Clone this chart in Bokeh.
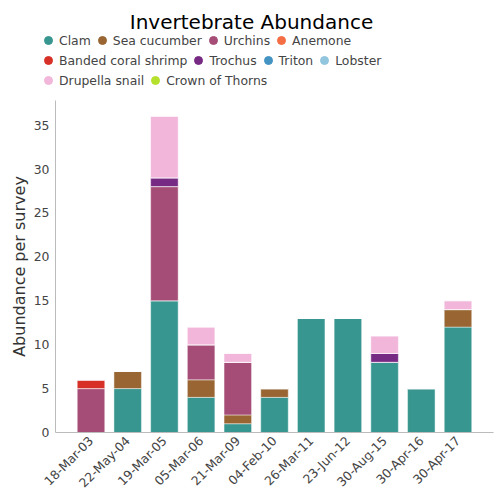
from bokeh.plotting import figure
from bokeh.models import (ColumnDataSource, FactorRange, Range1d, Legend, LegendItem,
                          Label, SingleIntervalTicker)
from bokeh.embed import file_html
from bokeh.resources import INLINE
from math import pi

title_text = "Invertebrate Abundance"
y_label = "Abundance per survey"

dates = ["18-Mar-03", "22-May-04", "19-Mar-05", "05-Mar-06", "21-Mar-09", "04-Feb-10",
         "26-Mar-11", "23-Jun-12", "30-Aug-15", "30-Apr-16", "30-Apr-17"]

species = ["Clam", "Sea cucumber", "Urchins", "Anemone", "Banded coral shrimp",
           "Trochus", "Triton", "Lobster", "Drupella snail", "Crown of Thorns"]

colors = ["#379790", "#996633", "#a54d76", "#f46d43", "#d73027",
          "#772a83", "#4393c3", "#92c5de", "#f1b6da", "#b5e02b"]

clam = [0, 5, 15, 4, 1, 4, 13, 13, 8, 5, 12]
sea_cucumber = [0, 2, 0, 2, 1, 1, 0, 0, 0, 0, 2]
urchins = [5, 0, 13, 4, 6, 0, 0, 0, 0, 0, 0]
anemone = [0, 0, 0, 0, 0, 0, 0, 0, 0, 0, 0]
banded_coral_shrimp = [1, 0, 0, 0, 0, 0, 0, 0, 0, 0, 0]
trochus = [0, 0, 1, 0, 0, 0, 0, 0, 1, 0, 0]
triton = [0, 0, 0, 0, 0, 0, 0, 0, 0, 0, 0]
lobster = [0, 0, 0, 0, 0, 0, 0, 0, 0, 0, 0]
drupella_snail = [0, 0, 7, 2, 1, 0, 0, 0, 2, 0, 1]
crown_of_thorns = [0, 0, 0, 0, 0, 0, 0, 0, 0, 0, 0]

series = [clam, sea_cucumber, urchins, anemone, banded_coral_shrimp,
          trochus, triton, lobster, drupella_snail, crown_of_thorns]

data = {"date": dates}
for name, vals in zip(species, series):
    data[name] = vals
source = ColumnDataSource(data)

FONT = "DejaVu Sans"
W = 498

# ---------- header: title + legend ----------
h = figure(width=W, height=100, min_border=0, x_axis_type=None, y_axis_type=None,
           x_range=Range1d(0, 1), y_range=Range1d(0, 1),
           output_backend="svg", toolbar_location=None)
h.outline_line_color = None
h.xgrid.visible = False
h.ygrid.visible = False

# invisible stand-in renderers (placed outside the header's range) for legend swatches
legend_dummy_x = [-5]
legend_dummy_y = [-5]
markers = {}
for name, col in zip(species, colors):
    markers[name] = h.scatter(x=legend_dummy_x, y=legend_dummy_y, marker="circle",
                              fill_color=col, line_color=col)

rows = [species[0:4], species[4:8], species[8:10]]
row_bottoms = [50, 30, 10]
for names, vy in zip(rows, row_bottoms):
    leg = Legend(items=[LegendItem(label=n, renderers=[markers[n]]) for n in names],
                 orientation="horizontal", location=(37, vy),
                 glyph_width=22, glyph_height=20, label_standoff=-2, spacing=0,
                 padding=0, margin=0, border_line_color=None,
                 background_fill_alpha=0,
                 label_text_font=FONT, label_text_font_size="12.4px",
                 label_text_color="#444444")
    h.add_layout(leg, "center")

h.add_layout(Label(x=251, y=79, x_units="screen", y_units="screen", text=title_text,
                   text_font=FONT, text_font_size="20px", text_color="#000000",
                   text_align="center", text_baseline="alphabetic"))

# ---------- main chart ----------
p = figure(x_range=FactorRange(factors=dates, range_padding=0.085),
           y_range=Range1d(0, 37.8),
           frame_width=438, frame_height=332,
           min_border_left=55, min_border_top=0, min_border_right=5, min_border_bottom=58,
           output_backend="svg", toolbar_location=None)
p.outline_line_color = None
p.xgrid.visible = False
p.ygrid.visible = False

p.vbar_stack(species, x="date", width=0.75, color=colors, source=source,
             line_color="white", line_alpha=0.45, line_width=1)

for ax in (p.xaxis[0], p.yaxis[0]):
    ax.axis_line_color = "#bbbbbb"
    ax.axis_line_width = 1
    ax.major_tick_line_color = None
    ax.minor_tick_line_color = None
    ax.major_tick_out = 0
    ax.major_tick_in = 0
    ax.minor_tick_out = 0
    ax.major_label_text_font = FONT
    ax.major_label_text_font_size = "12.4px"
    ax.major_label_text_color = "#444444"

p.yaxis[0].ticker = SingleIntervalTicker(interval=5)
p.yaxis[0].major_label_standoff = 6
p.yaxis[0].axis_label = y_label
p.yaxis[0].axis_label_text_font = FONT
p.yaxis[0].axis_label_text_font_size = "16px"
p.yaxis[0].axis_label_text_font_style = "normal"
p.yaxis[0].axis_label_text_color = "#333333"
p.yaxis[0].axis_label_standoff = 2

p.xaxis[0].major_label_orientation = pi / 4
p.xaxis[0].major_label_standoff = 6

open("out.html", "w").write(file_html([h, p], INLINE))
